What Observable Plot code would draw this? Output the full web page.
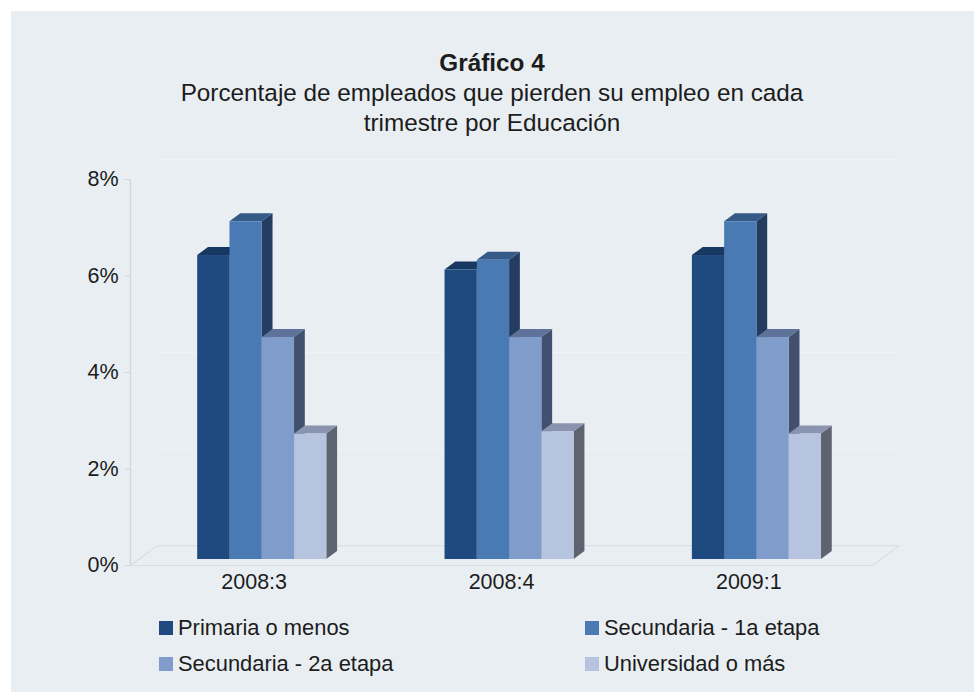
<!DOCTYPE html>
<html lang="es">
<head>
<meta charset="utf-8">
<script src="https://cdn.jsdelivr.net/npm/d3@7"></script>
<script src="https://cdn.jsdelivr.net/npm/@observablehq/plot@0.6"></script>
<style>
  html, body { margin: 0; padding: 0; background: #fff; width: 974px; height: 692px; overflow: hidden; }
  body { font-family: "Liberation Sans", Arial, sans-serif; color: #1c1c1c; position: relative; }
  #panel { position: absolute; left: 11px; top: 11px; right: 0; bottom: 0; background: #e8eef2; }
  #title { position: absolute; left: 0; width: 984px; top: 48px; text-align: center; font-size: 24.3px; line-height: 30px; }
  #title b { display: block; }
  #chart { position: absolute; left: 0; top: 140px; }
  #chart svg { background: transparent; display: block; }
  .leg { position: absolute; font-size: 21.9px; line-height: 24px; white-space: nowrap; }
  .leg i { position: absolute; width: 14px; height: 14px; left: -19px; top: 5px; }
</style>
</head>
<body>
<div id="panel"></div>
<div id="title"><b>Gráfico 4</b>Porcentaje de empleados que pierden su empleo en cada<br>trimestre por Educación</div>
<div id="chart"></div>
<div id="legend"></div>
<script>
const categories = ["2008:3", "2008:4", "2009:1"];
const seriesNames = ["Primaria o menos", "Secundaria - 1a etapa", "Secundaria - 2a etapa", "Universidad o más"];
const primaria = [6.3, 6.0, 6.3];
const secundaria1 = [7.0, 6.2, 7.0];
const secundaria2 = [4.6, 4.6, 4.6];
const universidad = [2.6, 2.65, 2.6];
const yTicks = [0, 2, 4, 6, 8];

const frontColors = ["#1f4a80", "#4a7ab3", "#7f9ccb", "#b7c4df"];
const topColors = ["#173860", "#365a88", "#5f7299", "#8a94ae"];
const sideColors = ["#1a3355", "#243c60", "#41506f", "#5d6370"];

// 3D projection, in data units: one unit of floor depth
const depthX = 0.109, depthY = 0.414;
const barFront = 0.3, barBack = 0.7;
const barW = 0.1305;

const values = [primaria, secundaria1, secundaria2, universidad];
const bars = [];
categories.forEach((c, g) => values.forEach((vals, s) => {
  const x0 = g + 0.5 - 2 * barW + s * barW + barFront * depthX;
  bars.push({id: g + "-" + s, s, v: vals[g], x0, x1: x0 + barW, base: barFront * depthY});
}));
const ddx = (barBack - barFront) * depthX, ddy = (barBack - barFront) * depthY;
const sidePts = bars.flatMap(b => [
  {id: b.id, x: b.x1, y1: b.base, y2: b.base + b.v, fill: sideColors[b.s]},
  {id: b.id, x: b.x1 + ddx, y1: b.base + ddy, y2: b.base + b.v + ddy, fill: sideColors[b.s]}
]);
const topPts = bars.flatMap(b => [
  {id: b.id, y: b.base + b.v, x1: b.x0, x2: b.x1, fill: topColors[b.s]},
  {id: b.id, y: b.base + b.v + ddy, x1: b.x0 + ddx, x2: b.x1 + ddx, fill: topColors[b.s]}
]);

const gridColor = "#eff3f6", floorColor = "#d8dfe5", axisColor = "#cfd6dc";
const gridTicks = yTicks.filter(t => t > 0);

const plot = Plot.plot({
  width: 974,
  height: 460,
  marginLeft: 130,
  marginRight: 102,
  marginTop: 39,
  marginBottom: 35,
  x: {domain: [0, categories.length]},
  y: {domain: [0, 8]},
  style: {background: "transparent", fontFamily: "'Liberation Sans', Arial, sans-serif"},
  marks: [
    // back wall grid and left wall slants
    Plot.link(gridTicks, {x1: depthX, x2: categories.length + depthX, y1: d => d + depthY, y2: d => d + depthY, stroke: gridColor, strokeWidth: 1}),
    Plot.link(gridTicks, {x1: 0, x2: depthX, y1: d => d, y2: d => d + depthY, stroke: gridColor, strokeWidth: 1}),
    // floor
    Plot.link([0], {x1: depthX, x2: categories.length + depthX, y1: depthY, y2: depthY, stroke: floorColor, strokeWidth: 1.2}),
    Plot.link([0, categories.length], {x1: d => d, x2: d => d + depthX, y1: 0, y2: depthY, stroke: floorColor, strokeWidth: 1.2}),
    Plot.link([0], {x1: 0, x2: categories.length, y1: 0, y2: 0, stroke: floorColor, strokeWidth: 1.2}),
    Plot.link([0], {x1: 0, x2: 0, y1: 0, y2: 8, stroke: axisColor, strokeWidth: 1.2}),
    // bars
    Plot.areaY(sidePts, {x: "x", y1: "y1", y2: "y2", z: "id", fill: "fill"}),
    Plot.areaX(topPts, {y: "y", x1: "x1", x2: "x2", z: "id", fill: "fill"}),
    Plot.rect(bars, {x1: "x0", x2: "x1", y1: "base", y2: d => d.base + d.v, fill: d => frontColors[d.s]}),
    // axes
    Plot.axisY({ticks: yTicks, tickFormat: d => d + "%", tickSize: 5, tickPadding: 7, stroke: axisColor, fill: "#1c1c1c", fontSize: 21.5, label: null}),
    Plot.axisX({ticks: categories.map((c, i) => i + 0.5), tickFormat: d => categories[Math.floor(d)], tickSize: 0, tickPadding: 8, fill: "#1c1c1c", fontSize: 21.5, label: null})
  ]
});
document.getElementById("chart").append(plot);

const legendPos = [[178, 616], [604, 616], [178, 652], [604, 652]];
const legend = document.getElementById("legend");
seriesNames.forEach((n, i) => {
  const el = document.createElement("div");
  el.className = "leg";
  el.style.left = legendPos[i][0] + "px";
  el.style.top = legendPos[i][1] + "px";
  el.textContent = n;
  const sw = document.createElement("i");
  sw.style.background = frontColors[i];
  el.append(sw);
  legend.append(el);
});
</script>
</body>
</html>
